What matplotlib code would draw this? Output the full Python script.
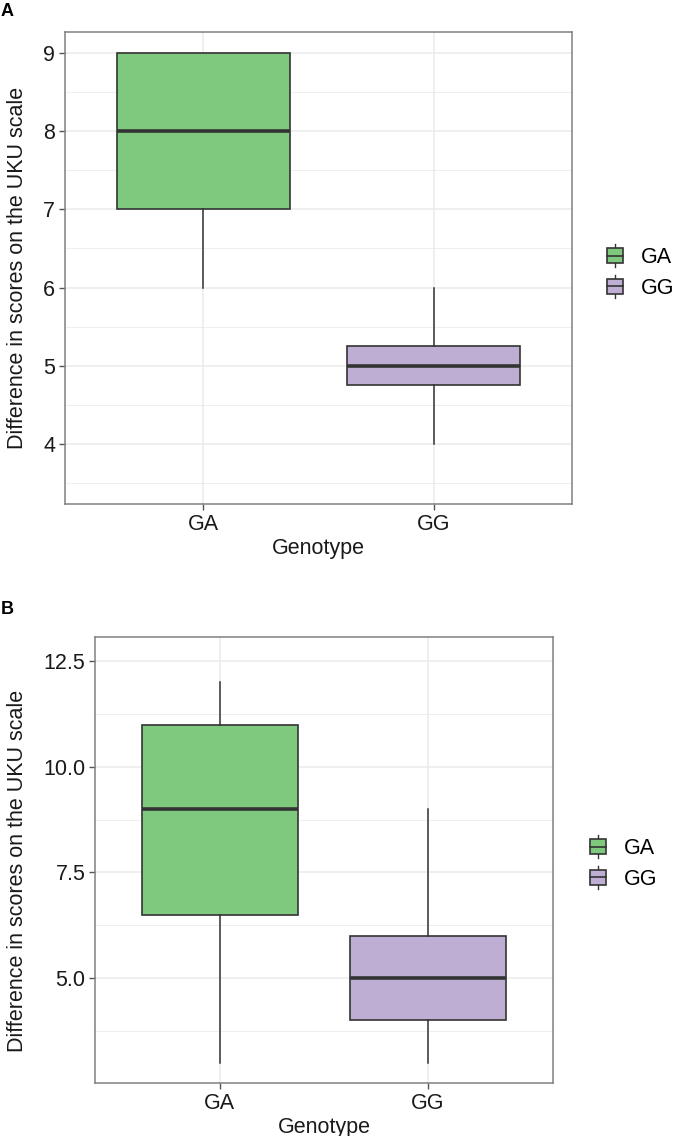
import matplotlib
matplotlib.use("Agg")
import matplotlib.pyplot as plt
from matplotlib.legend_handler import HandlerBase
from matplotlib.patches import Rectangle
from matplotlib.lines import Line2D

plt.rcParams['font.family'] = ['Liberation Sans', 'DejaVu Sans']

genotypes = ['GA', 'GG']
colors = ['#7FC97F', '#BEAED4']

# panel A: box statistics
a_whislo = [6, 4]
a_q1 = [7, 4.75]
a_med = [8, 5]
a_q3 = [9, 5.25]
a_whishi = [9, 6]
a_ticks = [4, 5, 6, 7, 8, 9]
a_ticklabels = ['4', '5', '6', '7', '8', '9']

# panel B
b_whislo = [3, 3]
b_q1 = [6.5, 4]
b_med = [9, 5]
b_q3 = [11, 6]
b_whishi = [12, 9]
b_ticks = [5.0, 7.5, 10.0, 12.5]
b_ticklabels = ['5.0', '7.5', '10.0', '12.5']

W, H = 674, 1136
fig = plt.figure(figsize=(W / 100, H / 100), dpi=100)

EDGE = '#333333'
FRAME = '#808080'
GRID = '#ebebeb'
TXT = '#1a1a1a'
FS = 15.5


class BoxKey(HandlerBase):
    def create_artists(self, legend, orig_handle, xdescent, ydescent,
                       width, height, fontsize, trans):
        x0, y0 = -xdescent, -ydescent
        cx = x0 + width / 2
        stub = height * 0.22
        arts = [
            Line2D([cx, cx], [y0 - stub, y0 + height + stub], color=EDGE, lw=1.0),
            Rectangle((x0, y0), width, height, facecolor=orig_handle.get_facecolor(),
                      edgecolor=EDGE, lw=1.2),
            Line2D([x0, x0 + width], [y0 + height / 2] * 2, color=EDGE, lw=1.2),
        ]
        for a in arts:
            a.set_transform(trans)
        return arts


def px_axes(left, top, right, bottom):
    return fig.add_axes([left / W, 1 - bottom / H, (right - left) / W, (bottom - top) / H])


def panel(ax, whislo, q1, med, q3, whishi, ylim, ticks, ticklabels, minor, legend_xy):
    stats = []
    for i, g in enumerate(genotypes):
        stats.append(dict(label=g, whislo=whislo[i], q1=q1[i], med=med[i],
                          q3=q3[i], whishi=whishi[i], fliers=[]))
    bp = ax.bxp(stats, positions=[1, 2], widths=0.75, patch_artist=True,
                showcaps=False, showfliers=False,
                boxprops=dict(edgecolor=EDGE, linewidth=1.2),
                whiskerprops=dict(color=EDGE, linewidth=1.1),
                medianprops=dict(color=EDGE, linewidth=2.6), zorder=3)
    for patch, c in zip(bp['boxes'], colors):
        patch.set_facecolor(c)
    ax.set_xlim(0.4, 2.6)
    ax.set_ylim(*ylim)
    ax.set_xticks([1, 2])
    ax.set_xticklabels(genotypes)
    ax.set_yticks(ticks)
    ax.set_yticklabels(ticklabels)
    ax.set_yticks(minor, minor=True)
    ax.tick_params(axis='y', which='minor', length=0)
    ax.tick_params(which='major', length=4, width=1.0, color='#555555',
                   labelsize=FS, labelcolor=TXT, pad=3)
    ax.grid(True, which='major', color=GRID, linewidth=1.1, zorder=0)
    ax.grid(True, which='minor', axis='y', color=GRID, linewidth=0.6, zorder=0)
    ax.set_axisbelow(True)
    for s in ax.spines.values():
        s.set_color(FRAME)
        s.set_linewidth(1.1)
    ax.set_xlabel('Genotype', fontsize=FS, color=TXT, labelpad=2)
    handles = [Rectangle((0, 0), 1, 1, facecolor=c) for c in colors]
    fig.legend(handles, genotypes, handler_map={Rectangle: BoxKey()},
               loc='center left', bbox_to_anchor=(legend_xy[0] / W, 1 - legend_xy[1] / H),
               frameon=False, fontsize=FS, handlelength=0.74, handleheight=0.74,
               handletextpad=0.84, labelspacing=0.45, borderpad=0, borderaxespad=0)


axA = px_axes(65, 32, 572, 504)
panel(axA, a_whislo, a_q1, a_med, a_q3, a_whishi, (3.23, 9.27),
      a_ticks, a_ticklabels, [3.5, 4.5, 5.5, 6.5, 7.5, 8.5], (607, 273))
fig.text(18 / W, 1 - 268 / H, 'Difference in scores on the UKU scale', rotation=90,
         ha='center', va='center', fontsize=FS, color=TXT)
fig.text(1 / W, 1 - 11 / H, 'A', fontsize=13, fontweight='bold', ha='left', va='center')

axB = px_axes(95, 637, 553, 1083)
panel(axB, b_whislo, b_q1, b_med, b_q3, b_whishi, (2.52, 13.07),
      b_ticks, b_ticklabels, [3.75, 6.25, 8.75, 11.25], (590, 864))
fig.text(18 / W, 1 - 871 / H, 'Difference in scores on the UKU scale', rotation=90,
         ha='center', va='center', fontsize=FS, color=TXT)
fig.text(1 / W, 1 - 609 / H, 'B', fontsize=13, fontweight='bold', ha='left', va='center')

fig.savefig('out.png', dpi=100)
